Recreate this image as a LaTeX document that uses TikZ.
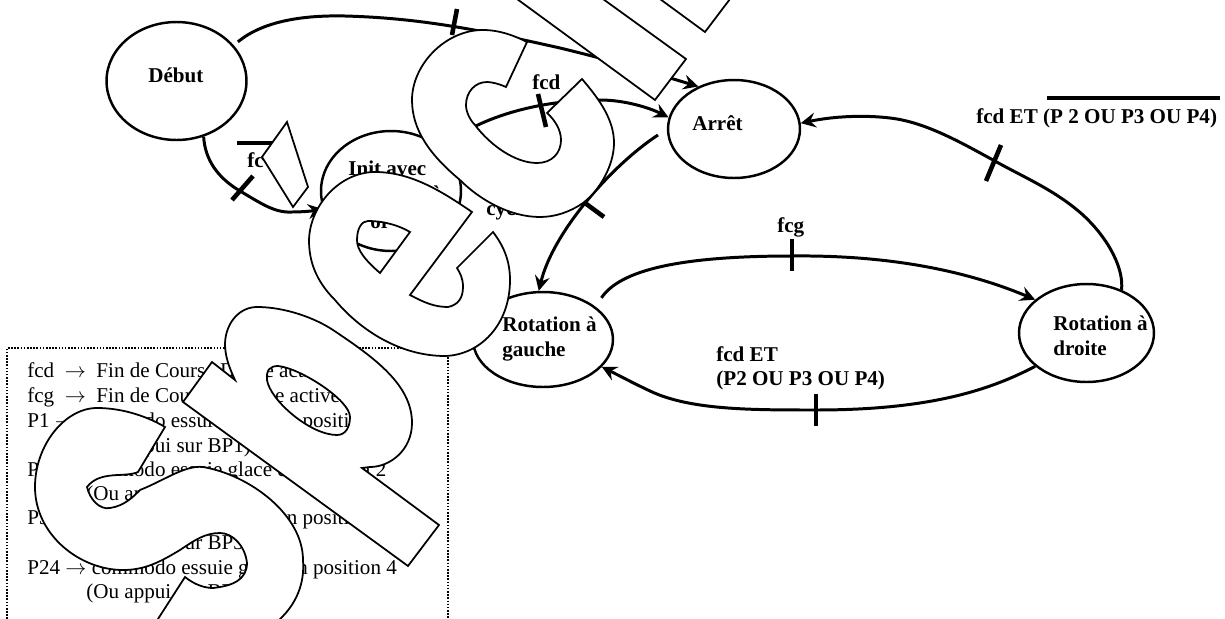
\documentclass[tikz,border=0pt]{standalone}
\usepackage{fontspec}
\setmainfont{Liberation Serif}
\usetikzlibrary{arrows.meta,shapes.geometric}
\newcommand{\corps}{\fontsize{12}{14}\selectfont}
\tikzset{
  etat/.style={draw,ellipse,line width=1.4pt,minimum width=#1,inner sep=0pt},
  trans/.style={line width=1.7pt,-{Stealth[length=8.5pt,width=8.5pt,inset=3pt]}},
  barre/.style={line width=2.6pt},
  lab/.style={anchor=base west,inner sep=0pt,font=\corps\bfseries},
  leg/.style={anchor=base west,inner sep=0pt,font=\corps},
  filigrane/.style={fill=white,draw=black,line width=1pt,even odd rule,line join=miter}
}
\begin{document}
\begin{tikzpicture}[x=0.02cm,y=-0.02cm]
  \useasboundingbox (0,0) rectangle (1225,619);
  \clip (0,0) rectangle (1225,619);
  % etats
  \node[etat=2.8cm,minimum height=2.36cm] (debut) at (176.5,81) {};
  \node[etat=2.64cm,minimum height=1.96cm] (arret) at (734,129) {};
  \node[etat=2.8cm,minimum height=2.4cm] (init) at (391,191) {};
  \node[etat=2.8cm,minimum height=1.9cm] (rotg) at (543,339.5) {};
  \node[etat=2.7cm,minimum height=1.96cm] (rotd) at (1086.5,333) {};
  \coordinate (arretS) at (658,135);
  \node[lab] (tdebut) at (148,82) {Début};
  \node[lab] (tarret) at (692,130) {Arrêt};
  \node[lab] (tinita) at (348,175) {Init avec};
  \node[lab] (tinitb) at (431,200) {à};
  \node[lab] (tinitc) at (370,228) {or};
  \node[lab] (tcycl) at (486,215) {cycle};
  \node[lab] (trotg) at (502,331) {Rotation à};
  \node[lab] (trotgb) at (502,356) {gauche};
  \node[lab] (trotd) at (1053,330) {Rotation à};
  \node[lab] (trotdb) at (1053,355) {droite};
  % transitions
  \draw[trans,shorten <=3pt] (debut.32) .. controls (262,22) and (300,15) .. (345,16)
    .. controls (420,18) and (480,30) .. (560,48) .. controls (610,60) and (650,72) .. (arret.130);
  \draw[trans] (debut.-64) .. controls (205,160) and (218,178) .. (240,191)
    .. controls (262,204) and (275,213) .. (292,212) .. controls (302,212) and (312,211) .. (init.195);
  \draw[trans] (init.40) .. controls (470,122) and (530,100) .. (600,100)
    .. controls (625,100) and (650,108) .. (arret.170);
  \draw[trans] (arretS) .. controls (612,165) and (553,232) .. (rotg.95);
  \draw[trans,shorten <=6pt] (rotg.32) .. controls (620,270) and (680,256) .. (792,256)
    .. controls (880,255) and (960,268) .. (rotd.147);
  \draw[trans] (rotd.-147) .. controls (990,390) and (930,410) .. (816,410)
    .. controls (750,410) and (690,410) .. (650,391) .. controls (635,384) and (620,376) .. (rotg.-25);
  \draw[trans] (rotd.51) .. controls (1124,270) and (1110,240) .. (1083,215)
    .. controls (1055,190) and (1025,178) .. (993,160) .. controls (960,142) and (925,122) .. (890,118)
    .. controls (865,115) and (835,116) .. (arret.5);
  % barres
  \foreach \xa/\ya/\xb/\yb in {457/9/452/35,253/176/232/200,538/94/546/127,585/203/604/217,
    792/239/792/271,1001/145/986/181,816/394/816/426}{%
    \draw[barre] (\xa,\ya)--(\xb,\yb);
  }
  % conditions
  \node[lab] (cfcd) at (532,89) {fcd};
  \node[lab] (cfcg) at (777,232) {fcg};
  \node[lab] (cfcb) at (247,167) {fc};
  \node[lab] (cet) at (716,361) {fcd ET};
  \node[lab] (cpp) at (716,385) {(P2 OU P3 OU P4)};
  \node[lab] (cnon) at (976,123) {fcd ET (P 2 OU P3 OU P4)};
  \draw[line width=2pt] (1047,98)--(1220,98);
  \draw[line width=2pt] (237,143)--(272,143);
  % legende
  \draw[line width=0.9pt,dash pattern=on 0.9pt off 0.9pt] (7,619)|-(448,348)--(448,619);
  \foreach \yl/\xl/\txt in {377/27/{fcd~ $\rightarrow$ ~Fin de Course Droite active},
    402/27/{fcg~ $\rightarrow$ ~Fin de Course Gauche active},
    427/27/{P1 $\rightarrow$ commodo essuie glace en position 1},
    452/86/{(Ou appui sur BP1)},
    476/27/{P2 $\rightarrow$ commodo essuie glace en position 2},
    500/86/{(Ou appui sur BP2)},
    524/27/{P3 $\rightarrow$ commodo essuie glace en position 3},
    549/86/{(Ou appui sur BP3)},
    574/27/{P24 $\rightarrow$ commodo essuie glace en position 4},
    598/86/{(Ou appui sur BP4)}}{%
    \node[leg] at (\xl,\yl) {\txt};
  }
  % S
  \draw[filigrane] (165,427)--(138,472) .. controls (125,478) and (100,470) .. (87,487)
    .. controls (90,500) and (100,510) .. (110,508) .. controls (125,506) and (135,495) .. (140,490)
    .. controls (165,480) and (185,465) .. (203,467) .. controls (250,475) and (303,515) .. (303,560)
    .. controls (305,585) and (295,605) .. (280,619) -- (280,640) -- (158,640) -- (158,619)
    -- (185,577) .. controls (195,585) and (205,588) .. (213,588)
    .. controls (232,586) and (247,580) .. (247,563) .. controls (245,545) and (232,533) .. (220,533)
    .. controls (205,533) and (195,540) .. (180,550) .. controls (160,562) and (145,570) .. (123,570)
    .. controls (80,570) and (35,535) .. (35,487) .. controls (35,445) and (65,408) .. (97,408)
    .. controls (125,408) and (150,418) .. (165,427) -- cycle;
  % p
  \draw[filigrane] (212,362)--(235,380) .. controls (228,365) and (225,355) .. (225,343)
    .. controls (226,322) and (240,307) .. (257,307) .. controls (285,307) and (315,318) .. (333,330)
    .. controls (375,358) and (412,385) .. (412,423) .. controls (412,450) and (390,467) .. (370,467)
    -- (362,468) -- (439,525) -- (408,566) -- (183,402) -- cycle
    (267,380) .. controls (266,370) and (270,366) .. (278,366) .. controls (300,368) and (350,400) .. (350,417)
    .. controls (350,428) and (345,435) .. (337,435) .. controls (310,435) and (270,400) .. (267,380) -- cycle;
  % e
  \draw[filigrane] (472,212)--(410,295) .. controls (425,303) and (435,307) .. (448,307)
    .. controls (458,305) and (463,298) .. (463,287) .. controls (463,278) and (460,273) .. (457,268)
    -- (493,232) .. controls (503,245) and (510,260) .. (510,280) .. controls (510,325) and (480,355) .. (445,356)
    .. controls (400,356) and (360,330) .. (335,300) .. controls (315,280) and (309,260) .. (309,240)
    .. controls (310,205) and (340,172) .. (375,172) .. controls (410,172) and (440,190) .. (472,212) -- cycle
    (410,232) -- (380,273) .. controls (365,260) and (357,250) .. (357,240)
    .. controls (357,228) and (362,221) .. (368,221) .. controls (385,221) and (400,226) .. (410,232) -- cycle;
  % c
  \draw[filigrane] (527,42)--(506,87) .. controls (497,83) and (490,82) .. (487,82)
    .. controls (475,82) and (466,92) .. (466,105) .. controls (466,112) and (470,120) .. (475,125)
    .. controls (490,145) and (515,163) .. (537,163) .. controls (552,163) and (561,153) .. (561,140)
    .. controls (561,130) and (555,120) .. (547,113) -- (582,79) .. controls (600,100) and (614,120) .. (614,143)
    .. controls (614,165) and (600,190) .. (583,203) .. controls (570,212) and (555,217) .. (540,217)
    .. controls (510,217) and (480,200) .. (460,180)
    .. controls (430,155) and (412,130) .. (412,100) .. controls (412,65) and (445,30) .. (483,30)
    .. controls (500,30) and (515,36) .. (527,42) -- cycle;
  % i
  \draw[filigrane] (517,-1)--(655,100)--(686,59)--(603,-1)--cycle;
  \draw[filigrane] (660,-1)--(705,32)--(730,-1)--cycle;
  \draw[filigrane] (287,122)--(262,157)--(293,207)--(308,187)--cycle;
\end{tikzpicture}
\end{document}
